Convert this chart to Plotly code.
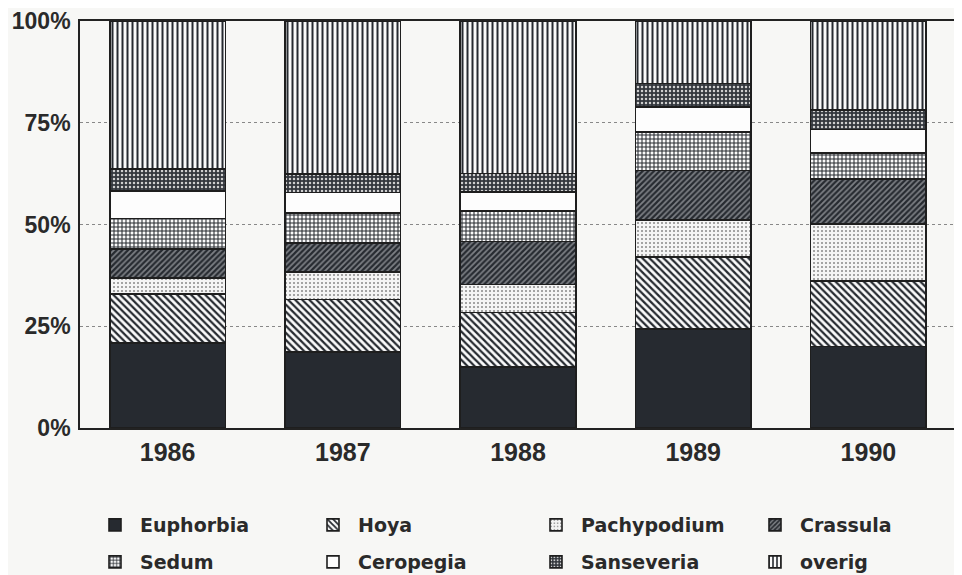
import plotly.graph_objects as go

years = ["1986", "1987", "1988", "1989", "1990"]
euphorbia = [20.9, 18.7, 15.0, 24.3, 20.0]
hoya = [12.0, 12.9, 13.4, 17.7, 16.1]
pachypodium = [4.0, 6.7, 6.9, 9.1, 14.0]
crassula = [7.1, 7.2, 10.5, 12.2, 11.1]
sedum = [7.5, 7.4, 7.5, 9.4, 6.4]
ceropegia = [6.7, 5.0, 4.7, 6.1, 5.7]
sanseveria = [5.5, 4.5, 4.5, 5.8, 4.9]
overig = [36.3, 37.6, 37.5, 15.4, 21.8]

y_tickvals = [0, 25, 50, 75, 100]
y_ticktext = ["0%", "25%", "50%", "75%", "100%"]

DARK = "#262a30"
BG = "#f7f7f5"

series = [
    ("Euphorbia", euphorbia, dict(shape="", bgcolor=DARK, fgcolor=DARK)),
    ("Hoya", hoya, dict(shape="\\", bgcolor="#fafafa", fgcolor=DARK, size=5, solidity=0.45)),
    ("Pachypodium", pachypodium, dict(shape=".", bgcolor="#f4f4f4", fgcolor="#888888", size=4, solidity=0.2)),
    ("Crassula", crassula, dict(shape="/", bgcolor="#7d8085", fgcolor=DARK, size=4, solidity=0.55)),
    ("Sedum", sedum, dict(shape="+", bgcolor="#fafafa", fgcolor=DARK, size=4, solidity=0.45)),
    ("Ceropegia", ceropegia, dict(shape="", bgcolor="#fdfdfd", fgcolor="#fdfdfd")),
    ("Sanseveria", sanseveria, dict(shape=".", bgcolor="#33373d", fgcolor="#cfcfcf", size=4, solidity=0.3)),
    ("overig", overig, dict(shape="|", bgcolor="#fafafa", fgcolor=DARK, size=5, solidity=0.4)),
]

# The page body adds an 8px offset; figure is sized to fit the 962x575 window.
OFF = 8
W, H = 962 - OFF, 575 - OFF
# legend layout: 4 columns x 2 rows (page px positions of each legend box)
col_x = [90, 308, 531, 750]
row_y = [525, 562]

fig = go.Figure()
for i, (name, vals, pat) in enumerate(series):
    color = pat["bgcolor"]
    pattern = dict(shape=pat["shape"], fillmode="replace",
                   bgcolor=pat["bgcolor"], fgcolor=pat["fgcolor"])
    if "size" in pat:
        pattern["size"] = pat["size"]
        pattern["solidity"] = pat["solidity"]
    lname = "legend" if i == 0 else f"legend{i+1}"
    fig.add_trace(go.Bar(
        x=years, y=vals, name=name, legend=lname,
        marker=dict(color=color, pattern=pattern,
                    line=dict(color="#1e1e1e", width=1.6)),
        width=0.66,
    ))

order = ["Euphorbia", "Hoya", "Pachypodium", "Crassula",
         "Sedum", "Ceropegia", "Sanseveria", "overig"]
legends = {}
for i, (name, _, _) in enumerate(series):
    pos = order.index(name)
    r, c = divmod(pos, 4)
    key = "legend" if i == 0 else f"legend{i+1}"
    legends[key] = dict(
        x=(col_x[c] - OFF) / W, y=1 - (row_y[r] - OFF) / H,
        xref="container", yref="container",
        xanchor="left", yanchor="middle", orientation="v",
        bgcolor="rgba(0,0,0,0)", itemwidth=40,
        font=dict(family="DejaVu Sans", size=19, color="#2a2a2a", weight="bold"),
        itemclick=False, itemdoubleclick=False,
    )

fig.update_layout(
    barmode="stack",
    width=W, height=H,
    margin=dict(l=80 - OFF, r=6, t=21 - OFF, b=147, autoexpand=False),
    paper_bgcolor=BG, plot_bgcolor=BG,
    showlegend=True,
    **legends,
)
fig.update_xaxes(
    showline=True, linecolor="#222", linewidth=1.6, mirror=True,
    ticks="", ticklabelstandoff=1, tickangle=0, ticklabeloverflow="allow",
    tickfont=dict(family="Liberation Sans", size=25, color="#2a2a2a", weight="bold"),
    showgrid=False,
)
fig.update_yaxes(
    range=[0, 100], tickvals=y_tickvals, ticktext=y_ticktext,
    showline=True, linecolor="#222", linewidth=1.6, mirror=True,
    ticks="", ticklabelstandoff=3, ticklabeloverflow="allow",
    tickfont=dict(family="Liberation Sans", size=23, color="#2a2a2a", weight="bold"),
    showgrid=True, gridcolor="#888", griddash="dot", gridwidth=1,
    zeroline=False,
)
fig.write_html("out.html")
